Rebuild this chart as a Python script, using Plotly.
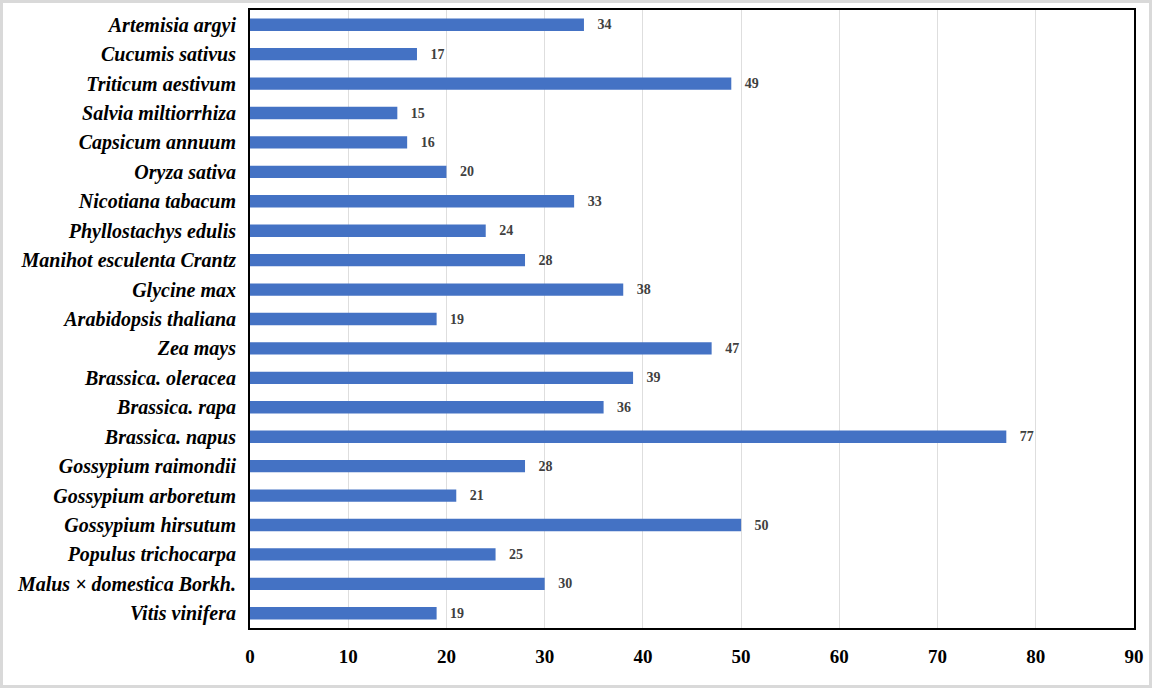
import plotly.graph_objects as go

species = [
    "Artemisia argyi", "Cucumis sativus", "Triticum aestivum", "Salvia miltiorrhiza",
    "Capsicum annuum", "Oryza sativa", "Nicotiana tabacum", "Phyllostachys edulis",
    "Manihot esculenta Crantz", "Glycine max", "Arabidopsis thaliana", "Zea mays",
    "Brassica. oleracea", "Brassica. rapa", "Brassica. napus", "Gossypium raimondii",
    "Gossypium arboretum", "Gossypium hirsutum", "Populus trichocarpa",
    "Malus × domestica Borkh.", "Vitis vinifera",
]
counts = [34, 17, 49, 15, 16, 20, 33, 24, 28, 38, 19, 47, 39, 36, 77, 28, 21, 50, 25, 30, 19]
x_ticks = [0, 10, 20, 30, 40, 50, 60, 70, 80, 90]

W, H = 1152, 688
ml, mr, mt, mb = 250, 18, 10, 60
serif = "Times New Roman, Liberation Serif, serif"

fig = go.Figure(go.Bar(
    x=counts,
    y=species,
    orientation="h",
    marker=dict(color="#4472C4", line=dict(width=0)),
    width=0.42,
    text=counts,
    texttemplate="   %{text}",
    textposition="outside",
    constraintext="none",
    cliponaxis=False,
    textfont=dict(family=serif, size=14, color="#404040", weight="bold"),
))

pw, ph = W - ml - mr, H - mt - mb
# light grey frame around the whole picture
fig.add_shape(type="rect", xref="paper", yref="paper",
              x0=-(ml - 1.5) / pw, x1=1 + (mr - 1.5) / pw,
              y0=-(mb - 1.5) / ph, y1=1 + (mt - 1.5) / ph,
              line=dict(color="#D9D9D9", width=3))

fig.update_layout(
    width=W, height=H,
    margin=dict(l=ml, r=mr, t=mt, b=mb),
    paper_bgcolor="white", plot_bgcolor="white",
    showlegend=False,
    font=dict(family=serif, color="black"),
)
fig.update_xaxes(
    range=[0, 90], tickvals=x_ticks,
    showgrid=True, gridcolor="#DEDEDE", gridwidth=1.2,
    zeroline=False, automargin=False,
    showline=True, linecolor="black", linewidth=2, mirror=True,
    ticks="", ticklabelstandoff=10,
    tickfont=dict(family=serif, size=19, weight="bold"),
)
fig.update_yaxes(
    categoryorder="array", categoryarray=species, autorange="reversed",
    automargin=False,
    showline=True, linecolor="black", linewidth=2, mirror=True,
    ticks="", ticklabelstandoff=8,
    tickfont=dict(family=serif, size=20, weight="bold", style="italic"),
)

fig.write_html("out.html", config={"displayModeBar": False},
               post_script="document.body.style.margin='0';")
